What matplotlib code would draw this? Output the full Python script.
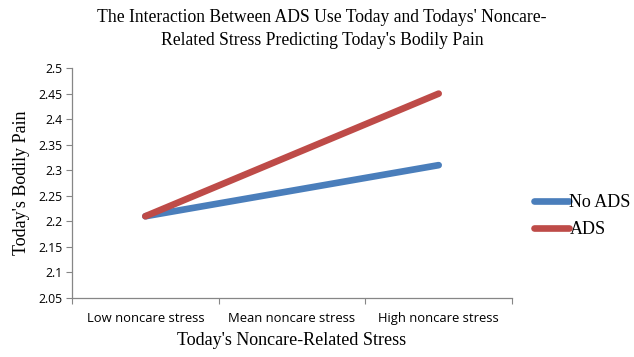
import matplotlib
matplotlib.use("Agg")
import matplotlib.pyplot as plt

# stress levels and predicted bodily pain for each group
categories = ["Low noncare stress", "Mean noncare stress", "High noncare stress"]
no_ads = [2.21, 2.26, 2.31]
ads = [2.21, 2.33, 2.45]
yticks = [2.05, 2.1, 2.15, 2.2, 2.25, 2.3, 2.35, 2.4, 2.45, 2.5]

serif = ["Liberation Serif", "DejaVu Serif"]
sans = ["Open Sans", "DejaVu Sans"]

fig = plt.figure(figsize=(6.34, 3.57), dpi=100)
ax = fig.add_axes([0.1136, 0.1653, 0.694, 0.644])

x = range(len(categories))
ax.plot(x, no_ads, color="#4a7ebb", lw=4.8, solid_capstyle="round", label="No ADS")
ax.plot(x, ads, color="#be4b48", lw=4.8, solid_capstyle="round", label="ADS")

ax.set_xlim(-0.5, 2.5)
ax.set_ylim(2.05, 2.5)
ax.set_yticks(yticks)
ax.set_yticklabels([f"{v:g}" for v in yticks], family=sans, fontsize=8.8)
ax.set_xticks([-0.5, 0.5, 1.5, 2.5], minor=False)
ax.set_xticklabels([])
ax.set_xticks(list(x), minor=True)
ax.set_xticklabels(categories, minor=True, family=sans, fontsize=9.4)
ax.tick_params(axis="x", which="minor", length=0, pad=10)
ax.tick_params(axis="x", which="major", length=4, color="#868686", direction="out")
ax.tick_params(axis="y", length=4, color="#868686", direction="out", pad=3)

for s in ["top", "right"]:
    ax.spines[s].set_visible(False)
for s in ["left", "bottom"]:
    ax.spines[s].set_color("#868686")
    ax.spines[s].set_linewidth(0.9)

ax.set_xlabel("Today's Noncare-Related Stress", family=serif, fontsize=13, labelpad=5)
ax.set_ylabel("Today's Bodily Pain", family=serif, fontsize=13, labelpad=6)

fig.text(0.508, 0.975,
         "The Interaction Between ADS Use Today and Todays' Noncare-\nRelated Stress Predicting Today's Bodily Pain",
         ha="center", va="top", family=serif, fontsize=12.7, linespacing=1.45)

fig.legend(loc="center left", bbox_to_anchor=(0.817, 0.395), frameon=False,
           prop={"family": serif, "size": 13}, handlelength=1.9, handletextpad=0.05,
           labelspacing=0.55)

fig.savefig("out.png", dpi=100)
